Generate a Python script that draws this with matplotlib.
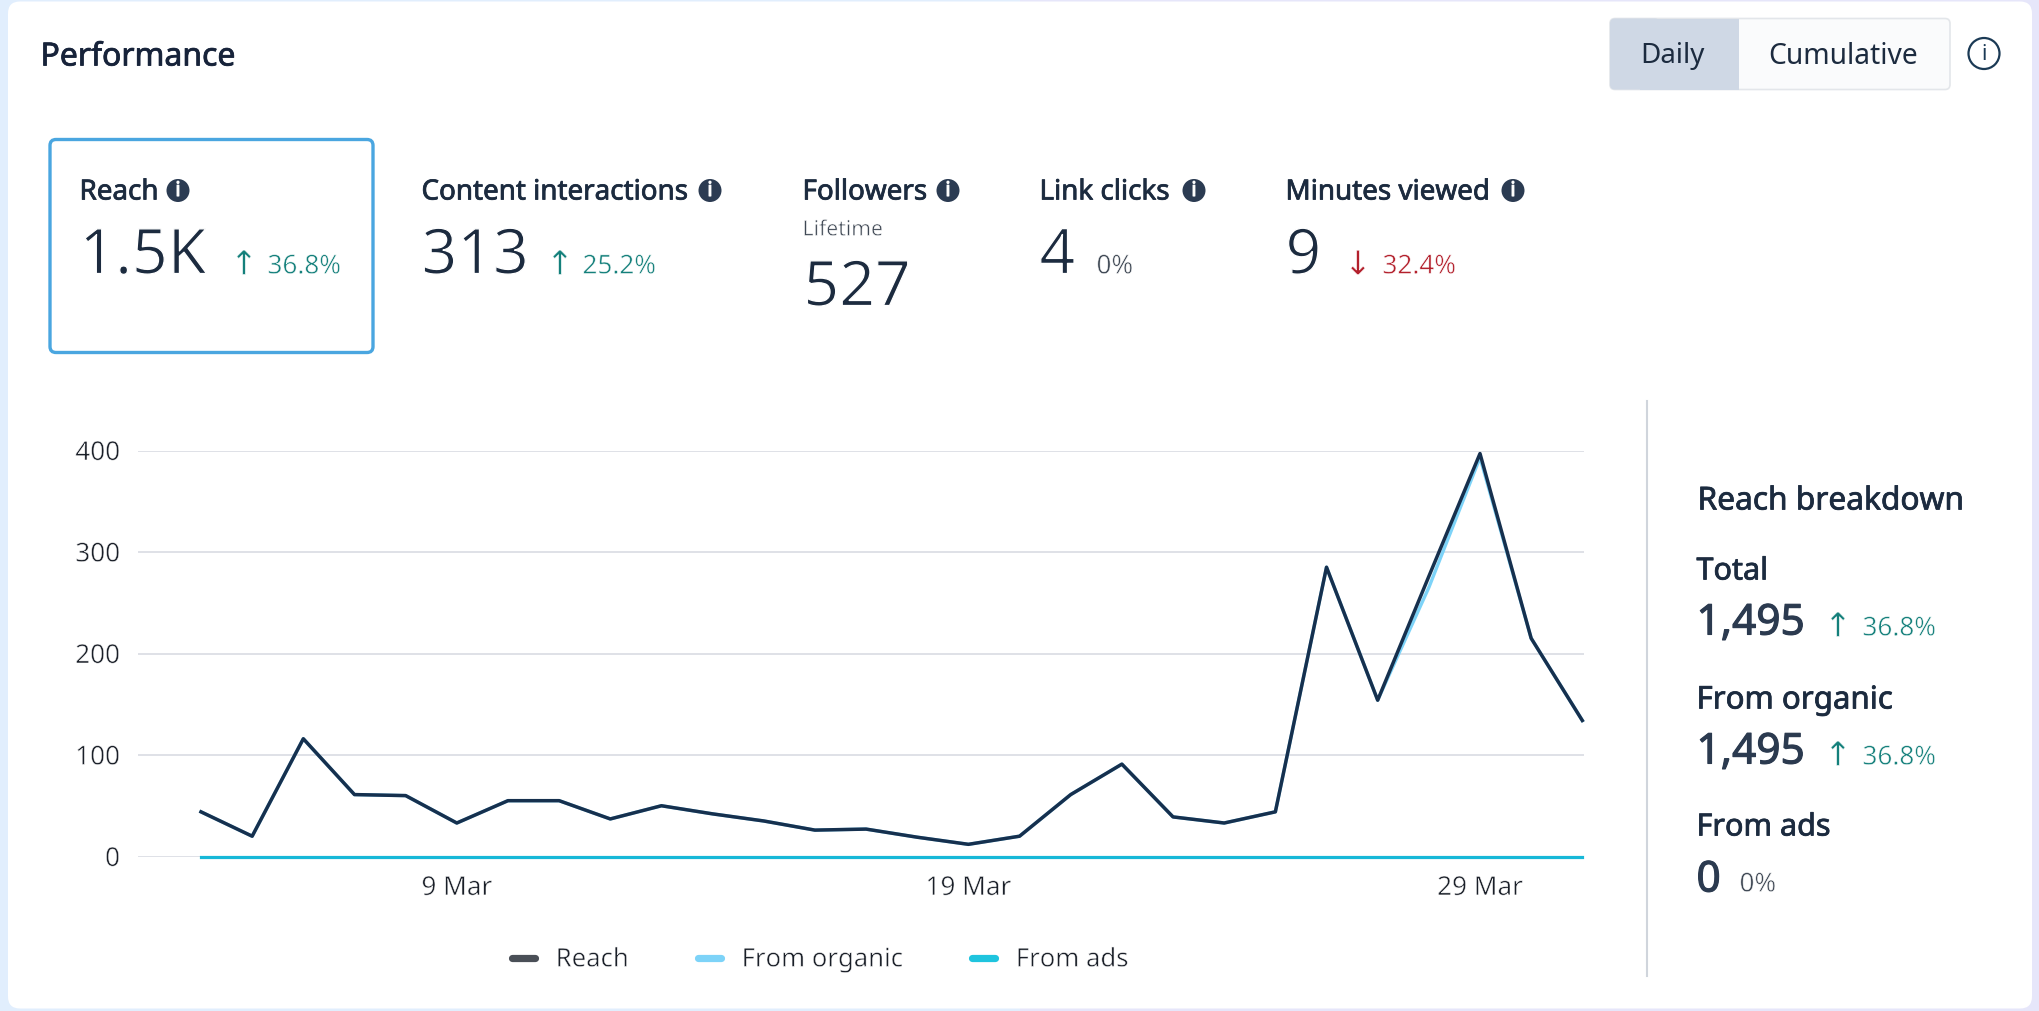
import datetime as dt
import matplotlib
matplotlib.use("Agg")
import matplotlib.pyplot as plt
import matplotlib.dates as mdates
import matplotlib.patheffects as pe
from matplotlib.lines import Line2D
from matplotlib.patches import Circle, FancyBboxPatch, Rectangle

dates = [dt.date(2025, 3, 4) + dt.timedelta(days=i) for i in range(28)]
reach = [44, 20, 116, 61, 60, 33, 55, 55, 37, 50, 42, 35, 26, 27, 19, 12, 20, 61, 91, 39, 33, 44, 285, 154, 276, 397, 215, 134]
organic = [44, 20, 116, 61, 60, 33, 55, 55, 37, 50, 42, 35, 26, 27, 19, 12, 20, 61, 91, 39, 33, 44, 285, 154, 265, 393, 215, 134]
ads = [0] * 28
y_ticks = [0, 100, 200, 300, 400]
x_tick_dates = [dt.date(2025, 3, 9), dt.date(2025, 3, 19), dt.date(2025, 3, 29)]
legend_labels = ["Reach", "From organic", "From ads"]

W, H = 2040, 1012
SHIFT = 1.5
FONT = "Noto Sans"
INK = "#1c2b3f"
TEAL = "#14807b"
RED = "#b3202c"
GREY = "#3f4854"

fig = plt.figure(figsize=(W / 100, H / 100), dpi=100)
bg = fig.add_axes([0, 0, 1, 1], zorder=0)
bg.imshow([[0, 1]], extent=(0, W, H, -SHIFT), aspect="auto", cmap=matplotlib.colors.LinearSegmentedColormap.from_list("b", ["#e1eefd", "#e6e6fa"]))
bg.set_xlim(0, W)
bg.set_ylim(H - SHIFT, -SHIFT)
bg.axis("off")


def light(width=0.4):
    return [pe.Stroke(linewidth=width, foreground="white")]


def rbox(x0, y0, x1, y1, r, fc, ec="none", lw=0, z=1):
    p = FancyBboxPatch((x0 + r, y0 + r), x1 - x0 - 2 * r, y1 - y0 - 2 * r,
                       boxstyle=f"round,pad={r},rounding_size={r}", fc=fc, ec=ec, lw=lw, zorder=z)
    bg.add_patch(p)


def txt(x, y, s, size, color=INK, weight="normal", ha="left", va="baseline", family=FONT):
    t = bg.text(x - (1.5 if ha == "left" else 0), y, s, fontsize=size, color=color, ha=ha, va=va, family=family, zorder=5)
    if weight == "light":
        t.set_path_effects(light())
    elif weight == "xlight":
        t.set_path_effects(light(0.9))
    elif weight == "medium":
        t.set_path_effects([pe.withStroke(linewidth=0.55, foreground=color)])
    elif weight == "semibold":
        t.set_path_effects([pe.withStroke(linewidth=0.8, foreground=color)])
    return t


def info(x, y):
    bg.add_patch(Circle((x, y), 11.5, fc="#2b3b52", ec="none", zorder=4))
    txt(x, y + 0.5, "i", 14.5, "white", "semibold", ha="center", va="center")


def delta(xa, xt, y, s, color, up=True):
    txt(xa, y + 1, "↑" if up else "↓", 24, color, "light", ha="center", family="DejaVu Sans")
    txt(xt, y, s, 18.8, color, "light")


rbox(8, 1, 2032, 1008, 12, "white")
txt(42, 65, "Performance", 23, "#17233a", "medium")

rbox(50, 139, 373, 352, 6, "white", "#4aa6e0", 2.4, z=2)

for x, ix, s in [(81, 178, "Reach"), (423, 710, "Content interactions"), (804, 948, "Followers"),
                 (1041, 1194, "Link clicks"), (1287, 1513, "Minutes viewed")]:
    txt(x, 199, s, 20, INK, "medium")
    info(ix, 190)
txt(804, 235, "Lifetime", 15.2, GREY, "light")
for x, y, s in [(81, 273, "1.5K"), (423, 273, "313"), (805, 305, "527"), (1041, 273, "4"), (1287, 273, "9")]:
    txt(x, y, s, 45, INK, "xlight")
delta(244, 269, 273, "36.8%", TEAL)
delta(560, 584, 273, "25.2%", TEAL)
delta(1358, 1384, 273, "32.4%", RED, up=False)
txt(1098, 273, "0%", 18.8, GREY, "light")

# Toggle
rbox(1610, 18, 1950, 89, 5, "#fafbfc", "#e3e6ea", 1.2, z=2)
rbox(1610, 18, 1660, 89, 5, "#cfd8e5", z=3)
bg.add_patch(Rectangle((1640, 18), 99, 71, fc="#cfd8e5", ec="none", zorder=3))
txt(1642, 62, "Daily", 20, INK)
txt(1770, 62, "Cumulative", 20.3, INK)
bg.add_patch(Circle((1984, 53), 15.5, fc="white", ec="#1b3a55", lw=1.6, zorder=4))
txt(1984, 53, "i", 15, "#1b3a55", ha="center", va="center")

# Divider
bg.add_line(Line2D([1647, 1647], [400, 976], color="#d0d5dc", lw=1.5, zorder=2))

# Breakdown
txt(1699, 509, "Reach breakdown", 22.8, INK, "medium")
txt(1698, 579, "Total", 22, INK, "medium")
txt(1698, 634, "1,495", 30.5, "#2b3a4f", "semibold")
delta(1838, 1864, 635, "36.8%", TEAL)
txt(1698, 708, "From organic", 22.5, INK, "medium")
txt(1698, 763, "1,495", 30.5, "#2b3a4f", "semibold")
delta(1838, 1864, 764, "36.8%", TEAL)
txt(1698, 835, "From ads", 22, INK, "medium")
txt(1698, 891, "0", 30.5, "#2b3a4f", "semibold")
txt(1741, 891, "0%", 18.8, GREY, "light")

# Chart
L, R, Y0, Y400 = 138, 1584, 856 + SHIFT, 450 + SHIFT
ax = fig.add_axes([L / W, 1 - Y0 / H, (R - L) / W, (Y0 - Y400) / H], zorder=2)
ax.patch.set_alpha(0)
ax.plot(dates, organic, color="#7dd3f8", lw=2.4, clip_on=False, zorder=3)
ax.plot(dates, reach, color="#16304e", lw=2.5, clip_on=False, zorder=4)
ax.plot(dates, ads, color="#17b8d8", lw=2.3, clip_on=False, zorder=5)
start = mdates.date2num(dates[0])
px_per_day = 51.16
ax.set_xlim(start - (201 - L) / px_per_day, start + (R - 201) / px_per_day)
ax.set_ylim(0, 400)
ax.set_yticks(y_ticks)
ax.set_xticks(x_tick_dates)
ax.set_xticklabels([f"{d.day} {d.strftime('%b')}" for d in x_tick_dates])
ax.tick_params(length=0, labelsize=18.8, labelcolor="#1a1f28")
ax.tick_params(axis="y", pad=13)
ax.tick_params(axis="x", pad=14)
for lb in ax.get_xticklabels() + ax.get_yticklabels():
    lb.set_family(FONT)
    lb.set_path_effects(light())
ax.grid(axis="y", color="#d9dce3", lw=1.2, zorder=1)
ax.set_axisbelow(True)
for s in ax.spines.values():
    s.set_visible(False)

handles = [Line2D([], [], color=c, lw=5.2, solid_capstyle="round") for c in ("#4a4f57", "#7dd3f8", "#1fc4de")]
leg = ax.legend(handles, legend_labels, loc="center left", bbox_to_anchor=((512 - L) / (R - L), (Y0 - 961) / (Y0 - Y400)),
                ncol=3, frameon=False, handlelength=0.9, handletextpad=0.8, columnspacing=2.7,
                prop={"family": FONT, "size": 18.5}, labelcolor="#1a1f28", borderpad=0, borderaxespad=0)
for t in leg.get_texts():
    t.set_path_effects(light())

fig.savefig("out.png", dpi=100)
